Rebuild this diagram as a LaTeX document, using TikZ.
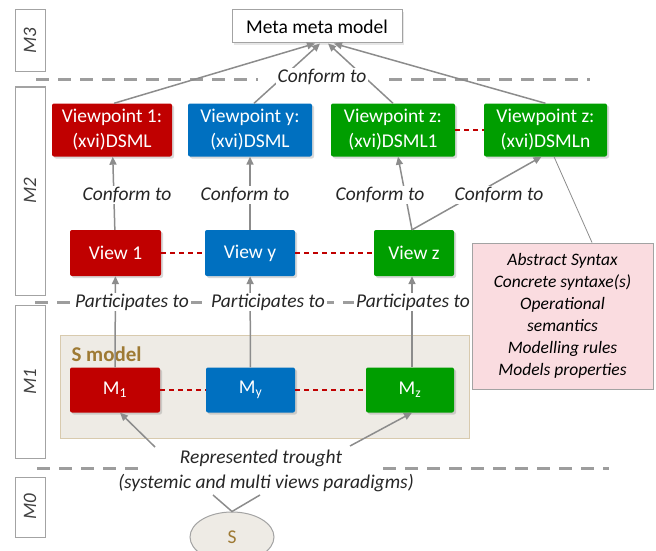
\documentclass[tikz,border=0pt]{standalone}
\usepackage{fontspec}
\setmainfont{Carlito}
\usetikzlibrary{arrows.meta,shadows,shapes.geometric}

\definecolor{vred}{HTML}{C00000}
\definecolor{vblue}{HTML}{0070C0}
\definecolor{vgreen}{HTML}{009E00}
\definecolor{lgray}{HTML}{8C8C8C}
\definecolor{sbrown}{HTML}{9E7A34}
\definecolor{sback}{HTML}{EEEBE5}
\definecolor{pinkbg}{HTML}{FADCE0}

\tikzset{
  vbox/.style={fill=#1, text=white, rounded corners=2pt, align=center, inner sep=0pt,
    font=\fontsize{19.5}{25}\selectfont,
    drop shadow={opacity=0.3, shadow xshift=2pt, shadow yshift=-2pt}},
  layerbox/.style={draw=lgray!80, line width=1pt, fill=white, minimum width=30pt, inner sep=0pt,
    text=black!75, font=\fontsize{19}{22}\selectfont\itshape},
  lbl/.style={fill=white, inner xsep=2pt, inner ysep=1pt, text=black!85,
    font=\fontsize{19.5}{22}\selectfont\itshape},
  arr/.style={draw=lgray, line width=1.5pt, -{Triangle[length=8pt,width=7pt]}},
  plain/.style={draw=lgray, line width=1.5pt},
  layerline/.style={draw=lgray!85, line width=3pt, dash pattern=on 13pt off 9pt},
  reddash/.style={draw=vred, line width=1.5pt, dash pattern=on 5pt off 4pt}
}

\begin{document}
\begin{tikzpicture}[x=1pt, y=-1pt]
\useasboundingbox (0,0) rectangle (656,551);

% layers
\node[layerbox, minimum height=62pt] (m3) at (30,41) {\rotatebox{90}{M3}};
\node[layerbox, minimum height=208pt] (m2) at (30,191) {\rotatebox{90}{M2}};
\node[layerbox, minimum height=153pt] (m1) at (30,381.5) {\rotatebox{90}{M1}};
\node[layerbox, minimum height=60pt] (m0) at (30,507) {\rotatebox{90}{M0}};

\draw[layerline] (36,80) -- (258,80);
\draw[layerline] (389,80) -- (590,80);
\draw[layerline] (35,302) -- (470,302);
\draw[layerline] (37,468) -- (146,468);
\draw[layerline] (383,468) -- (609,468);

% S model
\node[draw=sbrown!40, fill=sback, minimum width=409pt, minimum height=103pt, inner sep=0pt] (smodel) at (264.5,386.5) {};
\node[anchor=west, text=sbrown, font=\fontsize{21}{24}\selectfont\bfseries] (smlbl) at (68,354) {S model};

% M3
\node[draw=lgray!80, fill=white, line width=1pt, minimum width=170pt, minimum height=33pt, inner sep=0pt,
  font=\fontsize{19.5}{22}\selectfont, drop shadow={opacity=0.2, shadow xshift=2pt, shadow yshift=-2pt}] (meta) at (317,26.5) {Meta meta model};

% M2
\node[vbox=vred, minimum width=120pt, minimum height=53pt] (vp1) at (112,130) {Viewpoint 1:\\(xvi)DSML};
\node[vbox=vblue, minimum width=124pt, minimum height=53pt] (vpy) at (250,130) {Viewpoint y:\\(xvi)DSML};
\node[vbox=vgreen, minimum width=124pt, minimum height=53pt] (vpz1) at (393,130) {Viewpoint z:\\(xvi)DSML1};
\node[vbox=vgreen, minimum width=123pt, minimum height=53pt] (vpzn) at (545.5,130) {Viewpoint z:\\(xvi)DSMLn};

\node[vbox=vred, minimum width=91pt, minimum height=46pt] (view1) at (115.5,253) {View 1};
\node[vbox=vblue, minimum width=90pt, minimum height=46pt] (viewy) at (250,253) {View y};
\node[vbox=vgreen, minimum width=80pt, minimum height=46pt] (viewz) at (414,253) {View z};

% M1
\node[vbox=vred, minimum width=90pt, minimum height=45pt] (mm1) at (115,390) {M\textsubscript{1}};
\node[vbox=vblue, minimum width=89pt, minimum height=45pt] (mmy) at (250.5,390) {M\textsubscript{y}};
\node[vbox=vgreen, minimum width=88pt, minimum height=45pt] (mmz) at (410,390) {M\textsubscript{z}};

% M0
\node[ellipse, draw=lgray!80, fill=sback, line width=1pt, minimum width=84pt, minimum height=50pt, inner sep=0pt,
  text=sbrown, font=\fontsize{19.5}{22}\selectfont] (s) at (232,537) {S};

% pink box
\node[draw=lgray!80, fill=pinkbg, line width=1pt, minimum width=181pt, minimum height=146pt, inner sep=0pt,
  align=center, font=\fontsize{17.5}{22}\selectfont\itshape] (pink) at (562.5,316)
  {Abstract Syntax\\Concrete syntaxe(s)\\Operational\\semantics\\Modelling rules\\Models properties};

% connectors
\draw[reddash] (vpz1) -- (vpzn);
\draw[reddash] (view1) -- (viewy);
\draw[reddash] (viewy) -- (viewz);
\draw[reddash] (mm1) -- (mmy);
\draw[reddash] (mmy) -- (mmz);

\draw[arr] ([xshift=2pt]vp1.north) -- ([xshift=-2pt]meta.south);
\draw[arr] ([xshift=4pt]vpy.north) -- ([xshift=3pt]meta.south);
\draw[arr] (vpz1.north) -- ([xshift=11pt]meta.south);
\draw[arr] (vpzn.north) -- ([xshift=17pt]meta.south);

\draw[arr] (view1) -- (vp1);
\draw[arr] (viewy) -- (vpy);
\draw[arr] ([xshift=-2pt]viewz.north) -- ([xshift=5pt]vpz1.south);
\draw[arr] ([xshift=-2pt]viewz.north) -- ([xshift=-4pt]vpzn.south);

\draw[arr] (mm1) -- (view1);
\draw[arr] (mmy) -- (viewy);
\draw[arr] ([xshift=2pt]mmz.north) -- ([xshift=-2pt]viewz.south);

\draw[plain, line width=0.8pt] ([xshift=8.5pt]vpzn.south) -- ([xshift=29.5pt]pink.north);

% labels
\node[lbl] (ctop) at (322,77) {Conform to};
\node[lbl] (c1) at (127,195) {Conform to};
\node[lbl] (cy) at (245,195) {Conform to};
\node[lbl] (cz1) at (380,195) {Conform to};
\node[lbl] (czn) at (499,195) {Conform to};
\node[lbl] (p1) at (132,302) {Participates to};
\node[lbl] (py) at (268,302) {Participates to};
\node[lbl] (pz) at (413,302) {Participates to};

\node[lbl, fill=none] (rep) at (261,458) {Represented trought};
\node[lbl, fill=none] (sys) at (266,483) {(systemic and multi views paradigms)};

\coordinate (repl) at (155,447);
\coordinate (repr) at (350,446);
\coordinate (sysl) at (213,495);
\coordinate (sysr) at (260,495);
\draw[arr] (repl) -- ([xshift=5pt]mm1.south);
\draw[arr] (repr) -- ([xshift=2pt]mmz.south);
\draw[plain] (sysl) -- (s.north) -- (sysr);
\end{tikzpicture}
\end{document}
